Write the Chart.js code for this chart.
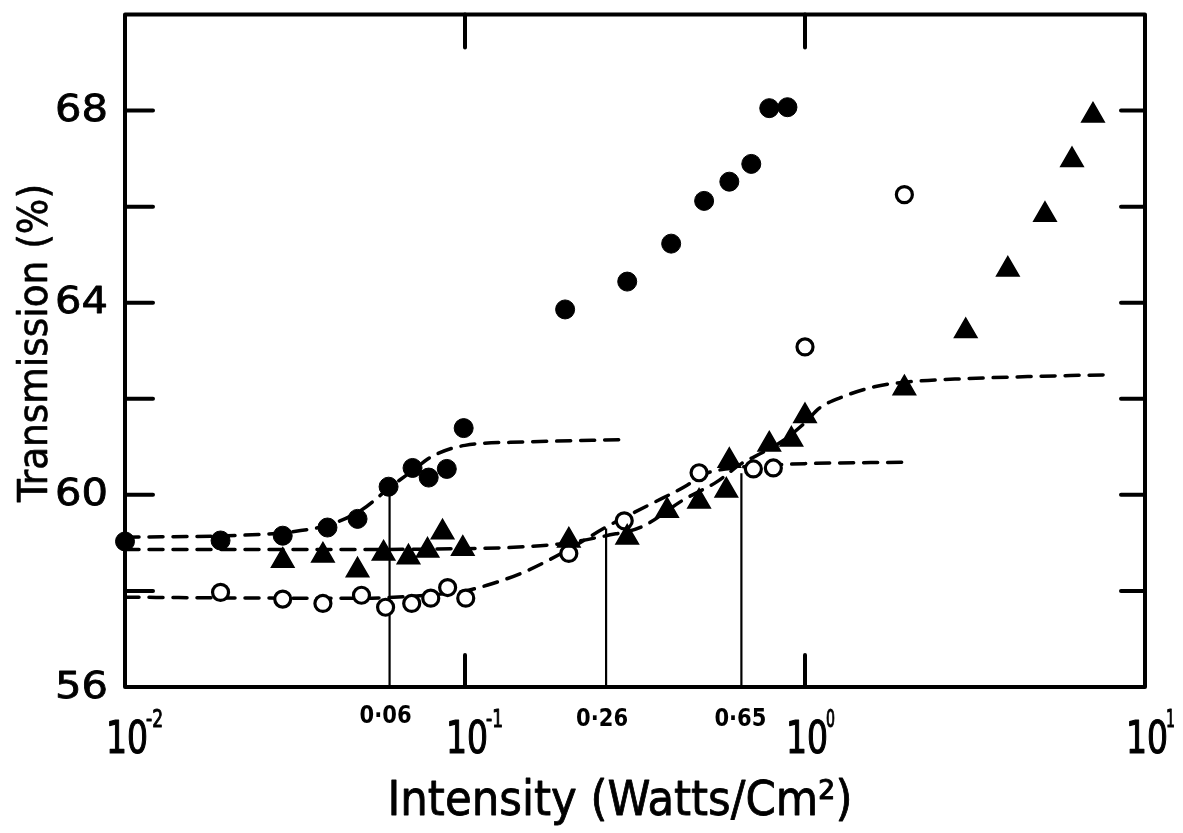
<!DOCTYPE html>
<html>
<head>
<meta charset="utf-8">
<script src="https://cdn.jsdelivr.net/npm/chart.js@4.4.1/dist/chart.umd.min.js"></script>
<style>
html,body{margin:0;padding:0;background:#fff;}
#wrap{width:1183px;height:833px;}
</style>
</head>
<body>
<div id="wrap"><canvas id="c" width="1183" height="833"></canvas></div>
<script>
// ---- data ----
const filledX = [0.01, 0.0191, 0.0291, 0.0394, 0.0483, 0.0596, 0.0701, 0.0782, 0.0884, 0.0991, 0.197, 0.300, 0.404, 0.505, 0.599, 0.695, 0.785, 0.888];
const filledY = [59.03, 59.05, 59.15, 59.32, 59.50, 60.17, 60.56, 60.36, 60.54, 61.39, 63.86, 64.44, 65.23, 66.12, 66.52, 66.89, 68.05, 68.07];

const triX = [0.0291, 0.0382, 0.0483, 0.0576, 0.0682, 0.0776, 0.0859, 0.0985, 0.202, 0.300, 0.393, 0.488, 0.587, 0.599, 0.785, 0.912, 1.0, 1.96, 2.97, 3.95, 5.08, 6.10, 7.03];
const triY = [58.63, 58.74, 58.43, 58.78, 58.70, 58.84, 59.22, 58.88, 59.05, 59.11, 59.67, 59.86, 60.09, 60.71, 61.05, 61.15, 61.64, 62.22, 63.41, 64.69, 65.83, 66.97, 67.90];

const openX = [0.0191, 0.0291, 0.0382, 0.0496, 0.0584, 0.0697, 0.0793, 0.0889, 0.1005, 0.202, 0.294, 0.488, 0.705, 0.807, 1.0, 1.96];
const openY = [57.97, 57.83, 57.74, 57.91, 57.66, 57.74, 57.85, 58.07, 57.85, 58.78, 59.46, 60.46, 60.54, 60.56, 63.08, 66.25];

const curveAX = [0.01, 0.02, 0.03, 0.04, 0.05, 0.06, 0.07, 0.08, 0.1, 0.15, 0.29];
const curveAY = [59.12, 59.15, 59.22, 59.38, 59.70, 60.15, 60.50, 60.80, 61.03, 61.10, 61.15];

const curveBX = [0.01, 0.03, 0.1, 0.15, 0.2, 0.26, 0.33, 0.44, 0.55, 0.65, 0.75, 0.85, 1.0, 1.1, 1.3, 1.6, 2.0, 3.0, 5.0, 7.8];
const curveBY = [58.86, 58.86, 58.88, 58.92, 59.00, 59.15, 59.33, 59.90, 60.27, 60.65, 60.88, 61.10, 61.50, 61.80, 62.05, 62.25, 62.35, 62.42, 62.47, 62.50];

const curveCX = [0.01, 0.03, 0.05, 0.08, 0.1, 0.12, 0.15, 0.2, 0.26, 0.35, 0.45, 0.5, 0.6, 0.8, 1.0, 1.95];
const curveCY = [57.87, 57.85, 57.85, 57.92, 58.00, 58.15, 58.40, 58.85, 59.33, 59.80, 60.20, 60.42, 60.55, 60.62, 60.65, 60.68];

const markerX = [0.06, 0.26, 0.65];
const markerTop = [60.15, 59.30, 60.45];
const markerLabels = ['0·06', '0·26', '0·65'];

const yMajorTicks = [56, 60, 64, 68];
const yMinorTicks = [58, 62, 66];
const xDecadeTicks = [0.01, 0.1, 1, 10];
const xTickBase = '10';
const xTickExps = ['-2', '-1', '0', '1'];

const yTitle = 'Transmission (%)';
const xTitle = 'Intensity (Watts/Cm²)';

// ---- helpers ----
const pts = (xs, ys) => xs.map((v, i) => ({x: v, y: ys[i]}));

function fitText(ctx, text, x, y, width, align, strokeW) {
  const m = ctx.measureText(text).width;
  const s = width / m;
  ctx.save();
  ctx.translate(x, y);
  ctx.scale(s, 1);
  ctx.textAlign = align;
  ctx.fillText(text, 0, 0);
  if (strokeW) { ctx.lineWidth = strokeW; ctx.strokeText(text, 0, 0); }
  ctx.restore();
}

const framePlugin = {
  id: 'frame',
  beforeDatasetsDraw(chart) {
    const {ctx, scales: {x, y}} = chart;
    ctx.save();
    ctx.strokeStyle = '#000';
    ctx.lineWidth = 2.2;
    markerX.forEach((v, i) => {
      const px = x.getPixelForValue(v);
      ctx.beginPath();
      ctx.moveTo(px, y.getPixelForValue(y.min));
      ctx.lineTo(px, y.getPixelForValue(markerTop[i]));
      ctx.stroke();
    });
    ctx.restore();
  },
  afterDatasetsDraw(chart) {
    const {ctx, chartArea: a, scales: {x, y}} = chart;
    ctx.save();
    ctx.strokeStyle = '#000';
    ctx.fillStyle = '#000';
    ctx.lineCap = 'round';
    ctx.lineJoin = 'round';
    ctx.lineWidth = 4;
    ctx.strokeRect(a.left, a.top, a.right - a.left, a.bottom - a.top);
    // y ticks inward on both sides
    [...yMajorTicks, ...yMinorTicks].forEach(v => {
      if (v <= y.min || v >= y.max) return;
      const py = y.getPixelForValue(v);
      ctx.beginPath();
      ctx.moveTo(a.left, py); ctx.lineTo(a.left + 28, py);
      ctx.moveTo(a.right, py); ctx.lineTo(a.right - 24, py);
      ctx.stroke();
    });
    // x decade ticks inward, top and bottom
    xDecadeTicks.forEach(v => {
      if (v <= x.min || v >= x.max) return;
      const px = x.getPixelForValue(v);
      ctx.beginPath();
      ctx.moveTo(px, a.bottom); ctx.lineTo(px, a.bottom - 32);
      ctx.moveTo(px, a.top); ctx.lineTo(px, a.top + 33);
      ctx.stroke();
    });
    // y tick labels
    ctx.textBaseline = 'middle';
    ctx.font = '37px "DejaVu Sans"';
    yMajorTicks.forEach(v => {
      fitText(ctx, String(v), 108, y.getPixelForValue(v) + 1, 53, 'right', 0.8);
    });
    // x tick labels with superscripts
    ctx.textBaseline = 'alphabetic';
    xDecadeTicks.forEach((v, i) => {
      const px = x.getPixelForValue(v);
      ctx.font = '45px "DejaVu Sans Condensed", "DejaVu Sans"';
      fitText(ctx, xTickBase, px + 2, 753, 42, 'center', 1.2);
      ctx.font = '25px "DejaVu Sans Condensed", "DejaVu Sans"';
      const e = xTickExps[i];
      fitText(ctx, e, px + 21, 727, e.length > 1 ? 17 : 9, 'left', 1);
    });
    // marker labels
    ctx.font = 'bold 25px "DejaVu Sans Condensed", "DejaVu Sans"';
    markerX.forEach((v, i) => {
      const px = x.getPixelForValue(v);
      const by = i === 0 ? 723 : 726;
      fitText(ctx, markerLabels[i], px - 4 + (i === 2 ? 3 : 0), by, 52, 'center');
    });
    // x title
    ctx.font = '48px "DejaVu Sans Condensed", "DejaVu Sans"';
    fitText(ctx, xTitle, 620, 815, 465, 'center', 0.8);
    // y title (rotated)
    ctx.save();
    ctx.translate(47, 343);
    ctx.rotate(-Math.PI / 2);
    ctx.font = '40px "DejaVu Sans Condensed", "DejaVu Sans"';
    fitText(ctx, yTitle, 0, 0, 318, 'center', 0.6);
    ctx.restore();
    ctx.restore();
  }
};

const dashed = (data) => ({
  type: 'line',
  data,
  showLine: true,
  borderColor: '#000',
  borderWidth: 3.5,
  borderDash: [14, 10],
  borderCapStyle: 'round',
  pointRadius: 0,
  fill: false,
  cubicInterpolationMode: 'monotone',
  clip: false,
  order: 10
});

new Chart(document.getElementById('c'), {
  type: 'scatter',
  data: {
    datasets: [
      {data: pts(filledX, filledY), pointStyle: 'circle', pointRadius: 9.5, backgroundColor: '#000', borderColor: '#000', borderWidth: 1, clip: false, order: 1},
      {data: pts(triX, triY), pointStyle: 'triangle', pointRadius: 13, backgroundColor: '#000', borderColor: '#000', borderWidth: 1.5, clip: false, order: 2},
      {data: pts(openX, openY), pointStyle: 'circle', pointRadius: 8, backgroundColor: '#fff', borderColor: '#000', borderWidth: 3.2, clip: false, order: 3},
      dashed(pts(curveAX, curveAY)),
      dashed(pts(curveBX, curveBY)),
      dashed(pts(curveCX, curveCY))
    ]
  },
  options: {
    responsive: false,
    animation: false,
    devicePixelRatio: 1,
    layout: {padding: {left: 125, right: 38, top: 12, bottom: 146}},
    plugins: {legend: {display: false}, tooltip: {enabled: false}},
    scales: {
      x: {type: 'logarithmic', min: 0.01, max: 10, display: false},
      y: {type: 'linear', min: 56, max: 70, display: false}
    }
  },
  plugins: [framePlugin]
});
</script>
</body>
</html>
